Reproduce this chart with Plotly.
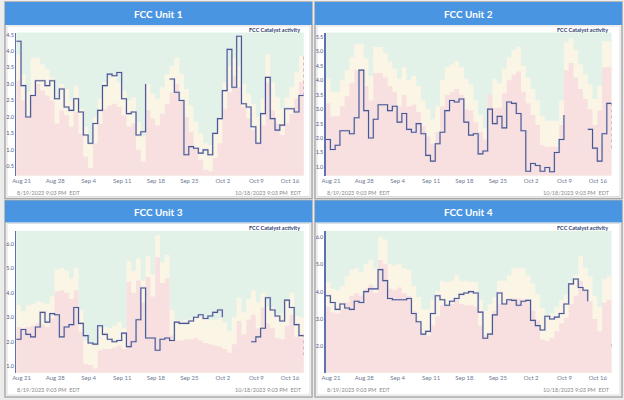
import pandas as pd
import plotly.graph_objects as go

# ---------------- data ----------------
start_time = "2023-08-19 21:03"
n_days = 60
tick_dates = ["2023-08-21", "2023-08-28", "2023-09-04", "2023-09-11", "2023-09-18",
              "2023-09-25", "2023-10-02", "2023-10-09", "2023-10-16"]
tick_labels = ["Aug 21", "Aug 28", "Sep 4", "Sep 11", "Sep 18", "Sep 25", "Oct 2", "Oct 9", "Oct 16"]
footer_left = "8/19/2023 9:03 PM  EDT"
footer_right = "10/18/2023 9:03 PM  EDT"
titles = ["FCC Unit 1", "FCC Unit 2", "FCC Unit 3", "FCC Unit 4"]
series_label = "FCC Catalyst activity"

activity_1 = [4.3, 2.95, 2.0, 2.65, 3.1, 3.1, 2.95, 3.1, 2.55, 2.85,
              2.3, 2.2, 2.55, 2.15, 1.45, 1.2, 1.8, 2.2, 2.95, 3.3,
              3.25, 3.35, 2.55, 2.1, 2.15, 1.45, 1.55, 3.0, None, None,
              None, None, 3.15, 2.75, 2.5, 0.85, 1.1, 1.05, 0.9, 1.0,
              0.85, 1.5, 1.95, 2.8, 4.05, 2.9, 4.45, 2.4, 2.3, 1.7,
              1.2, 2.1, 3.2, 1.95, 1.6, 1.75, 2.25, 2.25, 2.15, 2.65]
upper_1 = [3.9, 3.3, 2.75, 3.8, 3.8, 3.6, 3.45, 3.2, 2.6, 3.0,
           2.85, 2.5, 2.95, 2.25, 1.7, 1.25, 2.0, 2.55, 3.05, 3.2,
           3.25, 3.05, 2.8, 2.5, 2.6, 1.85, 1.4, 3.0, 2.7, 2.55,
           2.9, 3.3, 3.55, 3.8, 3.3, 2.85, 2.35, 1.85, 1.5, 1.2,
           1.15, 1.55, 2.0, 3.05, 3.55, 3.8, 3.55, 3.0, 2.7, 2.4,
           2.0, 2.55, 3.9, 3.05, 2.6, 2.25, 2.6, 2.9, 3.35, 3.85]
lower_1 = [3.1, 2.5, 2.0, 2.65, 3.0, 2.8, 2.65, 2.5, 1.8, 2.2,
           2.05, 1.7, 2.15, 1.5, 0.8, 0.45, 1.2, 1.8, 2.25, 2.35,
           2.4, 2.3, 2.05, 1.7, 1.8, 1.0, 0.65, 2.2, 1.95, 1.75,
           2.1, 2.4, 2.75, 3.0, 2.5, 2.0, 1.55, 1.05, 0.7, 0.4,
           0.35, 0.75, 1.2, 2.25, 2.75, 3.25, 2.9, 2.3, 1.95, 1.6,
           1.25, 1.75, 3.05, 2.2, 1.8, 1.45, 1.8, 2.1, 2.55, 3.05]

activity_2 = [1.95, 1.6, 1.75, 2.25, 2.25, 2.15, 2.7, 4.35, 2.95, 2.0,
              2.65, 3.15, 3.15, 2.95, 3.1, 2.55, 2.85, 2.3, 2.2, 2.5,
              2.15, 1.4, 1.2, 1.8, 2.2, 2.95, 3.3, 3.25, 3.35, 2.55,
              2.1, 2.15, 1.45, 1.55, 3.0, 2.5, 2.75, 2.35, 3.25, 3.2,
              2.85, 2.25, 0.85, 1.12, 1.05, 0.85, 0.98, 0.83, 1.5, 1.95,
              2.8, None, None, None, None, 2.3, 1.65, 1.2, 2.15, 3.2]
upper_2 = [4.05, 3.6, 3.6, 4.0, 4.35, 4.8, 5.25, 5.25, 4.75, 4.15,
           5.15, 5.15, 4.95, 4.65, 4.4, 4.05, 4.45, 4.0, 4.15, 3.8,
           3.3, 3.0, 2.65, 3.1, 4.0, 4.45, 4.55, 4.65, 4.45, 4.05,
           3.85, 3.3, 2.8, 2.35, 3.45, 4.05, 3.9, 4.4, 4.8, 5.05,
           5.15, 4.5, 4.1, 3.7, 3.3, 2.75, 2.6, 2.6, 2.6, 3.3,
           5.3, 5.45, 5.05, 4.55, 4.2, 3.85, 3.35, 3.8, 5.35, 5.35]
lower_2 = [3.2, 2.75, 2.75, 3.1, 3.45, 3.9, 4.35, 4.35, 3.8, 3.3,
           4.25, 4.25, 4.1, 3.8, 3.6, 3.1, 3.5, 3.1, 3.15, 2.9,
           2.4, 2.05, 1.8, 2.2, 3.1, 3.5, 3.6, 3.7, 3.5, 3.0,
           2.95, 2.55, 2.2, 1.95, 3.5, 3.05, 3.05, 3.55, 4.0, 4.2,
           4.3, 3.6, 3.2, 2.8, 2.45, 1.75, 1.7, 1.7, 1.7, 2.45,
           4.35, 4.6, 4.1, 3.7, 3.35, 3.0, 2.45, 2.95, 4.45, 4.45]

activity_3 = [2.1, 2.5, 2.3, 2.2, 2.6, 3.2, 2.8, 3.15, 3.1, 2.2,
              2.6, 2.7, 3.4, 2.75, 2.25, 1.95, 1.9, 2.65, 2.3, 2.1,
              2.0, 2.05, 2.35, 1.8, 2.0, 2.9, 4.2, 2.15, 2.15, 1.65,
              2.1, 2.15, 2.05, 2.8, 2.75, 2.75, 2.85, 3.0, 3.1, 2.95,
              3.05, 3.2, 3.3, 3.0, None, None, None, None, None, 2.0,
              2.2, 2.55, 3.8, 3.3, 3.05, 2.85, 3.7, 3.4, 2.7, 2.25]
upper_3 = [3.5, 3.25, 3.5, 3.55, 3.65, 3.6, 3.55, 3.85, 4.95, 5.0,
           4.9, 4.6, 5.0, 3.3, 2.05, 1.95, 1.9, 2.55, 2.6, 2.55,
           2.65, 2.8, 2.55, 5.3, 4.9, 5.4, 4.5, 5.5, 4.75, 6.35,
           5.25, 5.55, 3.3, 2.9, 2.85, 2.9, 2.95, 3.0, 3.0, 2.95,
           2.9, 2.9, 2.95, 2.8, 2.45, 3.0, 3.8, 3.2, 3.75, 4.1,
           3.6, 4.0, 3.45, 3.4, 3.1, 3.15, 3.7, 4.0, 3.05, 3.0]
lower_3 = [2.6, 2.55, 2.6, 2.65, 2.75, 2.7, 2.6, 2.95, 4.05, 4.1,
           4.0, 3.75, 4.1, 2.4, 1.1, 1.05, 0.9, 1.65, 1.7, 1.7,
           1.75, 1.85, 1.7, 4.45, 4.0, 4.5, 3.6, 4.65, 3.85, 5.45,
           4.4, 4.6, 2.25, 2.05, 2.05, 2.1, 2.1, 2.15, 2.05, 1.95,
           1.9, 1.85, 1.8, 1.7, 1.55, 1.9, 2.85, 2.3, 2.9, 3.1,
           2.55, 3.4, 2.75, 2.55, 2.15, 2.1, 2.65, 3.1, 2.2, 2.15]

activity_4 = [3.85, 3.6, 3.35, 3.55, 3.4, 3.35, 3.65, 3.6, 4.0, 4.1,
              4.1, 4.8, 4.4, 3.75, 3.7, 3.7, 3.7, 3.75, 3.2, 2.9,
              2.45, 2.55, 3.2, 3.85, 3.7, 3.5, 3.65, 3.75, 3.9, 3.95,
              4.0, 3.95, 3.25, 2.3, 2.45, 3.15, 3.95, 3.55, 3.7, 3.68,
              3.5, 3.65, 3.68, 2.95, 2.76, 2.6, 3.1, 3.0, 3.07, 3.2,
              3.55, 4.28, 4.46, 4.15, 4.05, 3.65, None, None, None, None]
upper_4 = [4.35, 4.1, 4.05, 4.2, 4.55, 4.8, 4.85, 4.7, 5.0, 5.15,
           4.85, 6.0, 5.9, 5.0, 4.95, 5.0, 4.85, 4.8, 4.2, 3.8,
           3.35, 3.35, 3.7, 4.0, 4.4, 4.35, 4.4, 4.6, 4.4, 4.4,
           4.35, 4.35, 3.7, 3.3, 3.55, 3.8, 4.4, 4.4, 4.6, 4.85,
           4.85, 4.85, 4.6, 4.3, 3.9, 3.4, 3.15, 3.2, 3.45, 3.7,
           3.9, 4.4, 4.6, 5.3, 4.85, 4.55, 3.85, 3.45, 4.45, 4.55]
lower_4 = [3.45, 3.25, 3.2, 3.35, 3.6, 3.85, 3.95, 3.85, 4.1, 4.25,
           3.95, 5.15, 5.0, 4.1, 4.05, 4.15, 3.95, 3.85, 3.3, 2.9,
           2.45, 2.4, 2.75, 3.1, 3.5, 3.5, 3.55, 3.7, 3.55, 3.5,
           3.5, 3.45, 2.75, 2.4, 2.5, 3.3, 3.55, 3.55, 3.75, 3.75,
           3.75, 3.7, 3.65, 3.3, 2.95, 2.25, 2.2, 2.3, 2.55, 2.85,
           3.05, 3.55, 3.85, 4.4, 4.05, 3.65, 3.0, 2.55, 3.6, 3.7]

end_1 = [2.65, 3.85]
end_2 = [3.2, 1.6]
end_3 = [2.3, 1.45]
end_4 = [2.1, 2.0]

y_ranges = [[0.22, 4.56], [0.7, 5.65], [0.73, 6.54], [1.04, 6.22]]
y_dticks = [0.5, 0.5, 1.0, 1.0]

activities = [activity_1, activity_2, activity_3, activity_4]
uppers = [upper_1, upper_2, upper_3, upper_4]
lowers = [lower_1, lower_2, lower_3, lower_4]
ends = [end_1, end_2, end_3, end_4]

# ---------------- style / layout ----------------
W, H = 624, 400
GREEN = "#e2f2e8"
CREAM = "#fbf5e5"
PINK = "#f9e0e0"
HEADER = "#4a95e2"
LINE = "#4b5690"
FONT = "Lato, sans-serif"


def px(x):
    return x / W


def py(y):
    return 1 - y / H


panels = [
    dict(box=(1, 1, 310, 198), head=24, plot=(12.3, 31.7, 301.7, 175.0)),
    dict(box=(313, 1, 622, 198), head=24, plot=(323.7, 31.7, 611.5, 175.0)),
    dict(box=(1, 200, 310, 397), head=222, plot=(12.3, 230.3, 301.7, 372.7)),
    dict(box=(313, 200, 622, 397), head=222, plot=(323.7, 230.3, 611.5, 372.7)),
]

dates = pd.date_range(start_time, periods=n_days + 1, freq="D")


def closed(vals):
    return list(vals) + [vals[-1]]


fig = go.Figure()
shapes = []
annotations = []
layout_axes = {}

for i in range(4):
    k = "" if i == 0 else str(i + 1)
    xa, ya = "x" + k, "y" + k
    p = panels[i]
    L, T, R, B = p["plot"]

    fig.add_trace(go.Scatter(x=dates, y=closed(uppers[i]), xaxis=xa, yaxis=ya, mode="lines",
                             line=dict(shape="hv", width=0, color=CREAM), fill="tozeroy",
                             fillcolor=CREAM, hoverinfo="skip"))
    fig.add_trace(go.Scatter(x=dates, y=closed(lowers[i]), xaxis=xa, yaxis=ya, mode="lines",
                             line=dict(shape="hv", width=0, color=PINK), fill="tozeroy",
                             fillcolor=PINK, hoverinfo="skip"))
    fig.add_trace(go.Scatter(x=dates, y=closed(activities[i]), xaxis=xa, yaxis=ya, mode="lines",
                             line=dict(shape="hv", width=2.2, color="rgba(200,205,228,0.6)"),
                             connectgaps=False, hoverinfo="skip"))
    fig.add_trace(go.Scatter(x=dates, y=closed(activities[i]), xaxis=xa, yaxis=ya, mode="lines",
                             line=dict(shape="hv", width=1.1, color=LINE),
                             connectgaps=False, name=series_label))
    fig.add_trace(go.Scatter(x=[dates[-1], dates[-1]], y=ends[i], xaxis=xa, yaxis=ya, mode="lines",
                             line=dict(width=1, color="#b894b4", dash="dot"), hoverinfo="skip"))

    layout_axes["xaxis" + k] = dict(
        domain=[px(L), px(R)], anchor=ya, range=[dates[0], dates[-1]],
        tickmode="array", tickvals=pd.to_datetime(tick_dates), ticktext=tick_labels,
        showgrid=False, zeroline=False, showline=False, ticks="",
        tickfont=dict(family=FONT, size=6, color="#6f7a96"), fixedrange=True)
    layout_axes["yaxis" + k] = dict(
        domain=[py(B), py(T)], anchor=xa, range=y_ranges[i], dtick=y_dticks[i],
        tickformat=".1f", showgrid=False, zeroline=False, showline=True,
        linecolor="#6270b0", linewidth=1.2, ticks="",
        tickfont=dict(family=FONT, size=5.5, color="#4f5b86"), fixedrange=True)

    bl, bt, br, bb = p["box"]
    shapes.append(dict(type="rect", xref="paper", yref="paper", x0=px(bl), x1=px(br),
                       y0=py(bb), y1=py(bt), line=dict(color="#a9a9a9", width=1.5),
                       fillcolor="white", layer="below"))
    shapes.append(dict(type="rect", xref="paper", yref="paper", x0=px(bl), x1=px(br),
                       y0=py(p["head"]), y1=py(bt), line=dict(width=0),
                       fillcolor=HEADER, layer="below"))
    shapes.append(dict(type="rect", xref="paper", yref="paper", x0=px(bl + 2), x1=px(br - 2),
                       y0=py(bb - 2), y1=py(p["head"] + 1), line=dict(color="#dcdcdc", width=1),
                       fillcolor="rgba(0,0,0,0)", layer="below"))
    shapes.append(dict(type="rect", xref="paper", yref="paper", x0=px(L), x1=px(R),
                       y0=py(B), y1=py(T), line=dict(width=0),
                       fillcolor=GREEN, layer="below"))

    annotations.append(dict(text="<b>%s</b>" % titles[i], xref="paper", yref="paper",
                            x=px((bl + br) / 2), y=py((bt + p["head"]) / 2 + 0.5),
                            xanchor="center", yanchor="middle", showarrow=False,
                            font=dict(family="Lato, sans-serif", size=10, color="white")))
    annotations.append(dict(text="<b>%s</b>" % series_label, xref="paper", yref="paper",
                            x=px(R - 2), y=py(T - 3), xanchor="right", yanchor="middle",
                            showarrow=False,
                            font=dict(family=FONT, size=5.5, color="#2e3b6e")))
    annotations.append(dict(text=footer_left, xref="paper", yref="paper",
                            x=px(L - 1), y=py(B + 17), xanchor="left", yanchor="middle",
                            showarrow=False, font=dict(family=FONT, size=5.5, color="#8a8a8a")))
    annotations.append(dict(text=footer_right, xref="paper", yref="paper",
                            x=px(R), y=py(B + 17), xanchor="right", yanchor="middle",
                            showarrow=False, font=dict(family=FONT, size=5.5, color="#8a8a8a")))

fig.update_layout(
    width=W, height=H, margin=dict(l=0, r=0, t=0, b=0),
    paper_bgcolor="#ececec", plot_bgcolor=GREEN, showlegend=False,
    hovermode=False, shapes=shapes, annotations=annotations, **layout_axes)

fig.write_html("out.html", config={"displayModeBar": False, "staticPlot": True},
               post_script="document.body.style.margin='0';document.body.style.overflow='hidden';")
